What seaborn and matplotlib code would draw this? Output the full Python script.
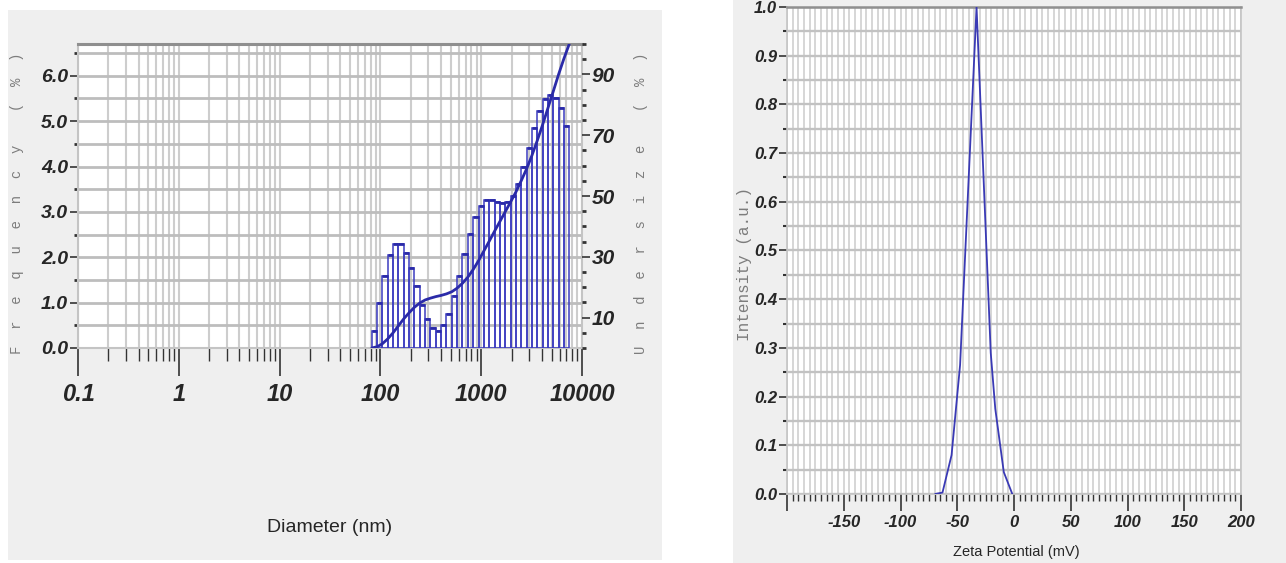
import numpy as np
import matplotlib
matplotlib.use("Agg")
import matplotlib.pyplot as plt
from matplotlib.patches import Rectangle
from matplotlib.ticker import FixedLocator, MultipleLocator, LogLocator, FuncFormatter, NullFormatter
import seaborn as sns

# ---- particle size distribution (log-spaced bins, nm) ----
bin_edges_nm = [82.0, 92.6, 104.6, 118.2, 133.6, 150.9, 170.5, 192.6, 217.6, 245.8,
                277.7, 313.7, 354.4, 400.4, 452.3, 511.0, 577.3, 652.2, 736.8, 832.3,
                940.3, 1062.2, 1200.0, 1355.7, 1531.5, 1730.2, 1954.6, 2208.1, 2494.5,
                2818.1, 3183.6, 3596.5, 4063.0, 4590.0, 5185.3, 5857.9, 6617.7, 7476.0]
frequency_pct = [0.37, 1.00, 1.59, 2.06, 2.30, 2.30, 2.10, 1.77, 1.37, 0.95,
                 0.63, 0.43, 0.37, 0.51, 0.76, 1.15, 1.59, 2.07, 2.52, 2.88,
                 3.13, 3.26, 3.26, 3.22, 3.19, 3.21, 3.35, 3.61, 3.99, 4.40,
                 4.84, 5.23, 5.48, 5.57, 5.52, 5.28, 4.89]
undersize_pct = [0.0, 0.4, 1.4, 3.0, 5.0, 7.3, 9.6, 11.6, 13.4, 14.8,
                 15.8, 16.4, 16.9, 17.3, 17.8, 18.5, 19.7, 21.3, 23.3, 25.8,
                 28.7, 31.9, 35.1, 38.4, 41.6, 44.8, 48.0, 51.3, 55.0, 58.9,
                 63.3, 68.2, 73.4, 78.9, 84.4, 90.0, 95.2, 100.0]
diameter_ticks = [0.1, 1, 10, 100, 1000, 10000]
diameter_labels = ["0.1", "1", "10", "100", "1000", "10000"]

# ---- zeta potential distribution ----
zeta_mv = [-69.5, -63.0, -55.0, -47.5, -33.0, -20.5, -16.5, -9.0, -1.5]
zeta_intensity = [0.0, 0.003, 0.08, 0.265, 1.0, 0.29, 0.175, 0.045, 0.0]
zeta_ticks = [-200, -150, -100, -50, 0, 50, 100, 150, 200]
zeta_labels = ["", "-150", "-100", "-50", "0", "50", "100", "150", "200"]

sns.set_style("white")
sans = ["Liberation Sans Narrow", "Liberation Sans", "DejaVu Sans"]
plt.rcParams["font.family"] = sans
plt.rcParams["axes.unicode_minus"] = False

W, H = 1286, 563
fig = plt.figure(figsize=(W / 100, H / 100), dpi=100, facecolor="white")


def box(x0, y_top, x1, y_bot):
    return [x0 / W, 1 - y_bot / H, (x1 - x0) / W, (y_bot - y_top) / H]


# grey panel backgrounds (behind everything)
fig.patches.append(Rectangle((8 / W, 1 - 560 / H), (662 - 8) / W, (560 - 10) / H,
                             transform=fig.transFigure, facecolor="#efefef",
                             edgecolor="none", zorder=-10))
fig.patches.append(Rectangle((733 / W, 0), (W - 733) / W, 1,
                             transform=fig.transFigure, facecolor="#efefef",
                             edgecolor="none", zorder=-10))

tick_font = dict(family=sans, weight="bold", style="italic", stretch="condensed")
mono = ["Liberation Mono", "DejaVu Sans Mono"]
label_grey = "#7c7c7c"
grid_v = dict(color="#cdcdcd", linewidth=1.5)
grid_h = dict(color="#bdbdbd", linewidth=2.0)
blue = "#2a2aa8"

# ================= left: size distribution =================
ax = fig.add_axes(box(78, 44, 582, 348))
ax.set_zorder(1)
ax.set_facecolor("white")
ax.set_xscale("log")
ax.set_xlim(0.1, 10000)
ax.set_ylim(0, 6.7)

lefts = np.array(bin_edges_nm[:-1])
rights = np.array(bin_edges_nm[1:])
freq = np.array(frequency_pct)
ax.bar(lefts, freq, width=rights - lefts, align="edge", fill=False,
       edgecolor="#3c3cc0", linewidth=1.1, zorder=3)
ax.hlines(freq, lefts, rights, color=blue, linewidth=2.0, zorder=4)

ax.xaxis.set_major_locator(FixedLocator(diameter_ticks))
ax.xaxis.set_major_formatter(FuncFormatter(
    lambda v, p: diameter_labels[diameter_ticks.index(v)] if v in diameter_ticks else ""))
ax.xaxis.set_minor_locator(LogLocator(base=10, subs=np.arange(2, 10)))
ax.xaxis.set_minor_formatter(NullFormatter())
ax.yaxis.set_major_locator(MultipleLocator(1.0))
ax.yaxis.set_minor_locator(MultipleLocator(0.5))
ax.yaxis.set_major_formatter(FuncFormatter(lambda v, p: f"{v:.1f}"))
ax.grid(True, axis="x", which="both", **grid_v)
ax.grid(True, axis="y", which="both", **grid_h)
ax.set_axisbelow(True)

ax.tick_params(axis="x", which="major", direction="out", bottom=True, length=20,
               width=1.2, color="#333333", pad=5, labelsize=17)
ax.tick_params(axis="x", which="minor", direction="out", bottom=True, length=9,
               width=1.0, color="#333333")
ax.tick_params(axis="y", which="major", direction="out", left=True, length=6,
               width=1.2, color="#333333", pad=1, labelsize=14)
ax.tick_params(axis="y", which="minor", direction="out", left=True, length=3,
               width=2.0, color="#333333")
for lbl in ax.get_xticklabels() + ax.get_yticklabels():
    lbl.set(**tick_font)

for side in ["left", "right", "bottom"]:
    ax.spines[side].set_color("#c4c4c4")
    ax.spines[side].set_linewidth(1.5)
ax.spines["top"].set_color("#8f8f8f")
ax.spines["top"].set_linewidth(2.2)

ax2 = ax.twinx()
ax2.set_zorder(2)
ax2.set_ylim(0, 100)
sns.lineplot(x=bin_edges_nm, y=undersize_pct, ax=ax2, color=blue, linewidth=2.0,
             sort=False, zorder=5)
ax2.set_ylabel("")
ax2.yaxis.set_major_locator(FixedLocator([10, 30, 50, 70, 90]))
ax2.yaxis.set_minor_locator(MultipleLocator(5))
ax2.tick_params(axis="y", which="major", direction="out", right=True, length=6,
                width=1.2, color="#333333", pad=1, labelsize=15)
ax2.tick_params(axis="y", which="minor", direction="out", right=True, length=3,
                width=2.0, color="#333333")
for lbl in ax2.get_yticklabels():
    lbl.set(**tick_font)
for s in ax2.spines.values():
    s.set_visible(False)

fig.text(330 / W, 1 - 527 / H, "Diameter (nm)", ha="center", va="center",
         fontsize=14, family=sans, stretch="condensed")
fig.text(17 / W, 1 - 203 / H, "F  r  e  q  u  e  n  c  y    (  %  )", rotation=90,
         ha="center", va="center", fontsize=10, color=label_grey, family=mono)
fig.text(641 / W, 1 - 203 / H, "U  n  d  e  r  s  i  z  e    (  %  )", rotation=90,
         ha="center", va="center", fontsize=10, color=label_grey, family=mono)

# ================= right: zeta potential =================
ax3 = fig.add_axes(box(787, 7, 1241, 494))
ax3.set_zorder(1)
ax3.set_facecolor("white")
ax3.set_xlim(-200, 200)
ax3.set_ylim(0, 1.0)
sns.lineplot(x=zeta_mv, y=zeta_intensity, ax=ax3, color="#3a3ab5", linewidth=1.3,
             sort=False, zorder=5)
ax3.set_xlabel("")
ax3.set_ylabel("")
ax3.xaxis.set_major_locator(FixedLocator(zeta_ticks))
ax3.xaxis.set_major_formatter(FuncFormatter(
    lambda v, p: zeta_labels[zeta_ticks.index(int(round(v)))]))
ax3.xaxis.set_minor_locator(MultipleLocator(5))
ax3.yaxis.set_major_locator(MultipleLocator(0.1))
ax3.yaxis.set_minor_locator(MultipleLocator(0.05))
ax3.yaxis.set_major_formatter(FuncFormatter(lambda v, p: f"{v:.1f}"))
ax3.grid(True, axis="x", which="both", color="#cfcfcf", linewidth=1.2)
ax3.grid(True, axis="y", which="both", color="#c2c2c2", linewidth=1.7)
ax3.set_axisbelow(True)
ax3.tick_params(axis="x", which="major", direction="out", bottom=True, length=12,
                width=1.2, color="#333333", pad=3, labelsize=12)
ax3.tick_params(axis="x", which="minor", direction="out", bottom=True, length=5,
                width=1.0, color="#333333")
ax3.tick_params(axis="y", which="major", direction="out", left=True, length=6,
                width=1.2, color="#333333", pad=1, labelsize=12)
ax3.tick_params(axis="y", which="minor", direction="out", left=True, length=3,
                width=1.5, color="#333333")
for lbl in ax3.get_xticklabels() + ax3.get_yticklabels():
    lbl.set(**tick_font)
for side in ["left", "right", "bottom"]:
    ax3.spines[side].set_color("#c4c4c4")
    ax3.spines[side].set_linewidth(1.2)
ax3.spines["top"].set_color("#8f8f8f")
ax3.spines["top"].set_linewidth(1.8)

fig.text(1016 / W, 1 - 552 / H, "Zeta Potential (mV)", ha="center", va="center",
         fontsize=10.5, family=sans, stretch="condensed")
fig.text(745 / W, 1 - 264 / H, "Intensity (a.u.)", rotation=90, ha="center",
         va="center", fontsize=11.5, color=label_grey, family=mono)

fig.savefig("out.png", dpi=100, facecolor="white")
